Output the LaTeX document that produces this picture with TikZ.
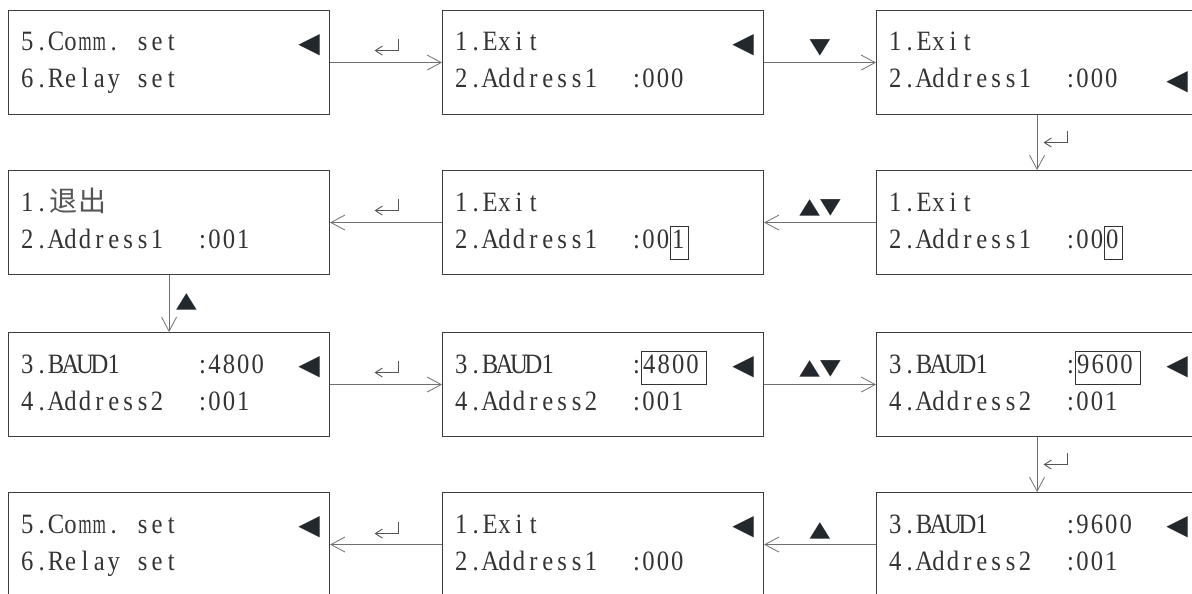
\documentclass[tikz,border=0pt]{standalone}
\usepackage{fontspec}
\usepackage{graphicx}
\usetikzlibrary{arrows.meta}
\newfontfamily\lcd[FakeStretch=0.88]{Liberation Serif}
\newfontfamily\cjk{Noto Sans CJK SC}
\newfontfamily\sym{DejaVu Sans}
\definecolor{txtc}{HTML}{333333}
\definecolor{cjkc}{HTML}{555555}
\definecolor{boxc}{HTML}{3A3D42}
\definecolor{linec}{HTML}{707070}
\definecolor{entc}{HTML}{555555}
\definecolor{triac}{HTML}{23282D}
\newlength\cellw \setlength\cellw{14.4pt}
\ExplSyntaxOn
\NewDocumentCommand\mono{m}{\tl_map_inline:nn{#1}{
  \str_if_eq:nnTF{##1}{:}{\makebox[\cellw][r]{:\hspace{1.5pt}}}{
    \str_if_eq:nnTF{##1}{m}{\makebox[\cellw][c]{\scalebox{0.7}[1]{m}}}{\makebox[\cellw][c]{##1}}}}}
\ExplSyntaxOff
\newcommand\hl[2][3pt]{{\setlength\fboxsep{0pt}\setlength\fboxrule{0.8pt}\fbox{\rule[-10.5pt]{0pt}{31.5pt}\mono{#2}\hspace{#1}}}}
\newcommand\wide[1]{\makebox[2\cellw][c]{\cjk\color{cjkc}#1}}
\newcommand\keysym[1]{\scalebox{1.12}[0.9]{#1}}
\tikzset{
  lcdbox/.style={draw=boxc, line width=1.1pt, minimum width=321pt, minimum height=104pt, inner sep=0pt, anchor=north west},
  txt/.style={anchor=base west, inner sep=0pt, text=txtc, font=\lcd\fontsize{28}{34}\selectfont},
  cur/.style={inner sep=0pt, text=triac, font=\sym\fontsize{28}{28}\selectfont},
  keylab/.style={inner sep=0pt, text=triac, font=\sym\fontsize{24}{24}\selectfont},
  conn/.style={draw=linec, line width=1pt, -{Straight Barb[length=14pt,width=15pt,line width=0.8pt]}},
  enterkey/.pic={\draw[draw=entc, line width=1pt, -{Straight Barb[length=7pt,width=9pt,line width=0.9pt]}] (12,-7.5) -- (12,4) -- (-12,4);}
}
\begin{document}
\begin{tikzpicture}[x=1pt,y=-1pt]
\useasboundingbox (0,0) rectangle (1192,594);
\clip (0,0) rectangle (1192,594);
% boxes
\node[lcdbox] (b11) at (8,10) {};
\node[lcdbox] (b12) at (442,10) {};
\node[lcdbox] (b13) at (876,10) {};
\node[lcdbox] (b21) at (8,170) {};
\node[lcdbox] (b22) at (442,170) {};
\node[lcdbox] (b23) at (876,170) {};
\node[lcdbox] (b31) at (8,332) {};
\node[lcdbox] (b32) at (442,332) {};
\node[lcdbox] (b33) at (876,332) {};
\node[lcdbox] (b41) at (8,492) {};
\node[lcdbox] (b42) at (442,492) {};
\node[lcdbox] (b43) at (876,492) {};
% texts
\node[txt] (t11a) at ([shift={(12,41)}]b11.north west) {\mono{5.Comm.{}set}};
\node[txt] (t11b) at ([shift={(12,78)}]b11.north west) {\mono{6.Relay{}set}};
\node[txt] (t12a) at ([shift={(12,41)}]b12.north west) {\mono{1.Exit}};
\node[txt] (t12b) at ([shift={(12,78)}]b12.north west) {\mono{2.Address1{}{}:000}};
\node[txt] (t13a) at ([shift={(12,41)}]b13.north west) {\mono{1.Exit}};
\node[txt] (t13b) at ([shift={(12,78)}]b13.north west) {\mono{2.Address1{}{}:000}};
\node[txt] (t21a) at ([shift={(12,41)}]b21.north west) {\mono{1.}\wide{退}\wide{出}};
\node[txt] (t21b) at ([shift={(12,78)}]b21.north west) {\mono{2.Address1{}{}:001}};
\node[txt] (t22a) at ([shift={(12,41)}]b22.north west) {\mono{1.Exit}};
\node[txt] (t22b) at ([shift={(12,78)}]b22.north west) {\mono{2.Address1{}{}:00}\hl{1}};
\node[txt] (t23a) at ([shift={(12,41)}]b23.north west) {\mono{1.Exit}};
\node[txt] (t23b) at ([shift={(12,78)}]b23.north west) {\mono{2.Address1{}{}:00}\hl{0}};
\node[txt] (t31a) at ([shift={(12,41)}]b31.north west) {\mono{3.BAUD1{}{}{}{}{}:4800}};
\node[txt] (t31b) at ([shift={(12,78)}]b31.north west) {\mono{4.Address2{}{}:001}};
\node[txt] (t32a) at ([shift={(12,41)}]b32.north west) {\mono{3.BAUD1{}{}{}{}{}:}\hl[6pt]{4800}};
\node[txt] (t32b) at ([shift={(12,78)}]b32.north west) {\mono{4.Address2{}{}:001}};
\node[txt] (t33a) at ([shift={(12,41)}]b33.north west) {\mono{3.BAUD1{}{}{}{}{}:}\hl[6pt]{9600}};
\node[txt] (t33b) at ([shift={(12,78)}]b33.north west) {\mono{4.Address2{}{}:001}};
\node[txt] (t41a) at ([shift={(12,41)}]b41.north west) {\mono{5.Comm.{}set}};
\node[txt] (t41b) at ([shift={(12,78)}]b41.north west) {\mono{6.Relay{}set}};
\node[txt] (t42a) at ([shift={(12,41)}]b42.north west) {\mono{1.Exit}};
\node[txt] (t42b) at ([shift={(12,78)}]b42.north west) {\mono{2.Address1{}{}:000}};
\node[txt] (t43a) at ([shift={(12,41)}]b43.north west) {\mono{3.BAUD1{}{}{}{}{}:9600}};
\node[txt] (t43b) at ([shift={(12,78)}]b43.north west) {\mono{4.Address2{}{}:001}};
% cursors
\node[cur] (c11) at ([shift={(-21,35)}]b11.north east) {◀};
\node[cur] (c12) at ([shift={(-21,35)}]b12.north east) {◀};
\node[cur] (c13) at ([shift={(-21,72.5)}]b13.north east) {◀};
\node[cur] (c31) at ([shift={(-21,35)}]b31.north east) {◀};
\node[cur] (c32) at ([shift={(-21,35)}]b32.north east) {◀};
\node[cur] (c33) at ([shift={(-21,35)}]b33.north east) {◀};
\node[cur] (c41) at ([shift={(-21,35)}]b41.north east) {◀};
\node[cur] (c42) at ([shift={(-21,35)}]b42.north east) {◀};
\node[cur] (c43) at ([shift={(-21,35)}]b43.north east) {◀};
% connectors
\draw[conn] (b11.east) -- (b12.west) coordinate[midway] (m1);
\draw[conn] (b12.east) -- (b13.west) node[keylab, midway, yshift=15pt] (l2) {\keysym{▼}};
\draw[conn] (b13.south) -- (b23.north) coordinate[midway] (m3);
\draw[conn] (b23.west) -- (b22.east) node[keylab, midway, yshift=14.5pt] (l4) {\keysym{▲▼}};
\draw[conn] (b22.west) -- (b21.east) coordinate[midway] (m5);
\draw[conn] (b21.south) -- (b31.north) node[keylab, midway, xshift=17.5pt, yshift=2pt] (l6) {\keysym{▲}};
\draw[conn] (b31.east) -- (b32.west) coordinate[midway] (m7);
\draw[conn] (b32.east) -- (b33.west) node[keylab, midway, yshift=15.5pt] (l8) {\keysym{▲▼}};
\draw[conn] (b33.south) -- (b43.north) coordinate[midway] (m9);
\draw[conn] (b43.west) -- (b42.east) node[keylab, midway, yshift=14pt] (l10) {\keysym{▲}};
\draw[conn] (b42.west) -- (b41.east) coordinate[midway] (m11);
% enter-key labels
\pic (l1) at ([shift={(0.5,-16)}]m1) {enterkey};
\pic (l3) at ([shift={(18.5,-4)}]m3) {enterkey};
\pic (l5) at ([shift={(0.5,-16)}]m5) {enterkey};
\pic (l7) at ([shift={(0.5,-16)}]m7) {enterkey};
\pic (l9) at ([shift={(18.5,-4)}]m9) {enterkey};
\pic (l11) at ([shift={(0.5,-15)}]m11) {enterkey};
\end{tikzpicture}
\end{document}
